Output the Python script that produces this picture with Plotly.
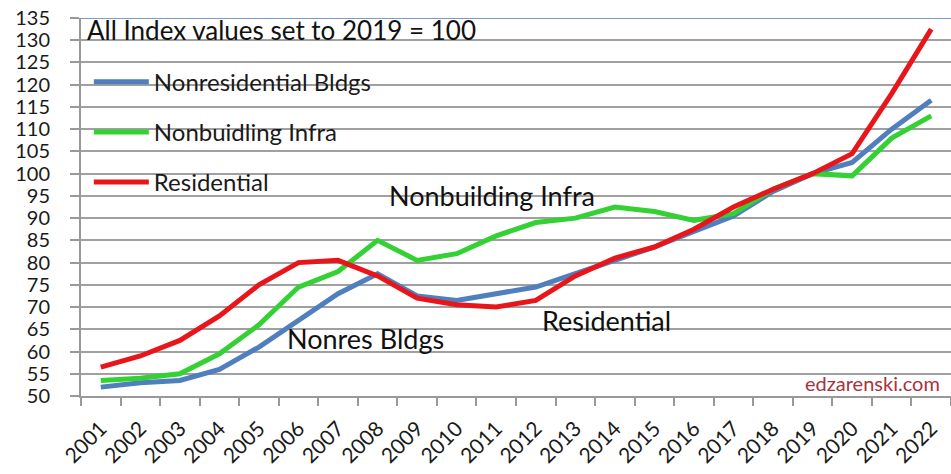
import plotly.graph_objects as go

years = [str(y) for y in range(2001, 2023)]
nonres = [52, 53, 53.5, 56, 61, 67, 73, 77.5, 72.5, 71.5, 73, 74.5, 77.5, 80.5,
          83.5, 87, 90.5, 96, 100, 102.5, 110, 116.5]
infra = [53.5, 54, 55, 59.5, 66, 74.5, 78, 85, 80.5, 82, 86, 89, 90, 92.5,
         91.5, 89.5, 91, 96.5, 100, 99.5, 108, 113]
resid = [56.5, 59, 62.5, 68, 75, 80, 80.5, 77, 72, 70.5, 70, 71.5, 77, 81,
         83.5, 87.5, 92.5, 96.5, 100, 104.5, 118, 132.5]
yticks = list(range(50, 136, 5))

FONT = "Lato"
fig = go.Figure()
series = [("Nonresidential Bldgs", nonres, "#4f7fbd"),
          ("Nonbuidling Infra", infra, "#33d133"),
          ("Residential", resid, "#e8161b")]
for i, (name, vals, col) in enumerate(series):
    fig.add_trace(go.Scatter(x=years, y=vals, mode="lines", name=name,
                             legendgroup=f"g{i}",
                             line=dict(color=col, width=5)))

fig.update_layout(
    width=951, height=474,
    margin=dict(l=81, r=0, t=18, b=78),
    paper_bgcolor="white", plot_bgcolor="white",
    font=dict(family=FONT, color="#1a1a1a"),
    showlegend=True,
    legend=dict(x=0.009, y=0.89, xanchor="left", yanchor="top",
                bgcolor="rgba(0,0,0,0)", font=dict(size=24, family=FONT, color="#1a1a1a"),
                tracegroupgap=16, itemwidth=55),
    xaxis=dict(type="category", range=[-0.5, 21.5], tickangle=-45, automargin=False,
               tickfont=dict(size=21, family=FONT, color="#1a1a1a"),
               ticklabelstandoff=10,
               showgrid=False, showline=True, linecolor="#999", linewidth=2,
               ticks="outside", tickson="boundaries", ticklen=8,
               tickcolor="#999", tickwidth=2),
    yaxis=dict(range=[50, 135], tickvals=yticks, ticktext=[str(v) for v in yticks],
               automargin=False, ticklabelstandoff=16,
               tickfont=dict(size=20, family=FONT, color="#1a1a1a"),
               showgrid=True, gridcolor="#a0a0a0", gridwidth=2,
               showline=True, linecolor="#999", linewidth=2,
               ticks="outside", ticklen=9, tickcolor="#999", tickwidth=2,
               zeroline=False),
)

fig.add_shape(type="line", xref="paper", yref="y", x0=0, x1=1, y0=135, y1=135,
              line=dict(color="#7a9cc6", width=2))

fig.add_annotation(text="All Index values set to 2019 = 100", xref="paper", yref="y",
                   x=0.005, y=132.2, xanchor="left", yanchor="middle", showarrow=False,
                   font=dict(size=26, family=FONT, color="#111"))
fig.add_annotation(text="Nonbuilding Infra", x=9.9, y=95, showarrow=False,
                   font=dict(size=27, family=FONT, color="#111"))
fig.add_annotation(text="Nonres Bldgs", x=6.7, y=63, showarrow=False,
                   font=dict(size=27, family=FONT, color="#111"))
fig.add_annotation(text="Residential", x=12.8, y=67, showarrow=False,
                   font=dict(size=27, family=FONT, color="#111"))
fig.add_annotation(text="edzarenski.com", xref="paper", x=0.99, y=53,
                   xanchor="right", showarrow=False,
                   font=dict(size=20, family=FONT, color="#a8323c"))

fig.write_html("out.html", config={"displayModeBar": False},
               post_script="document.body.style.margin='0';")
